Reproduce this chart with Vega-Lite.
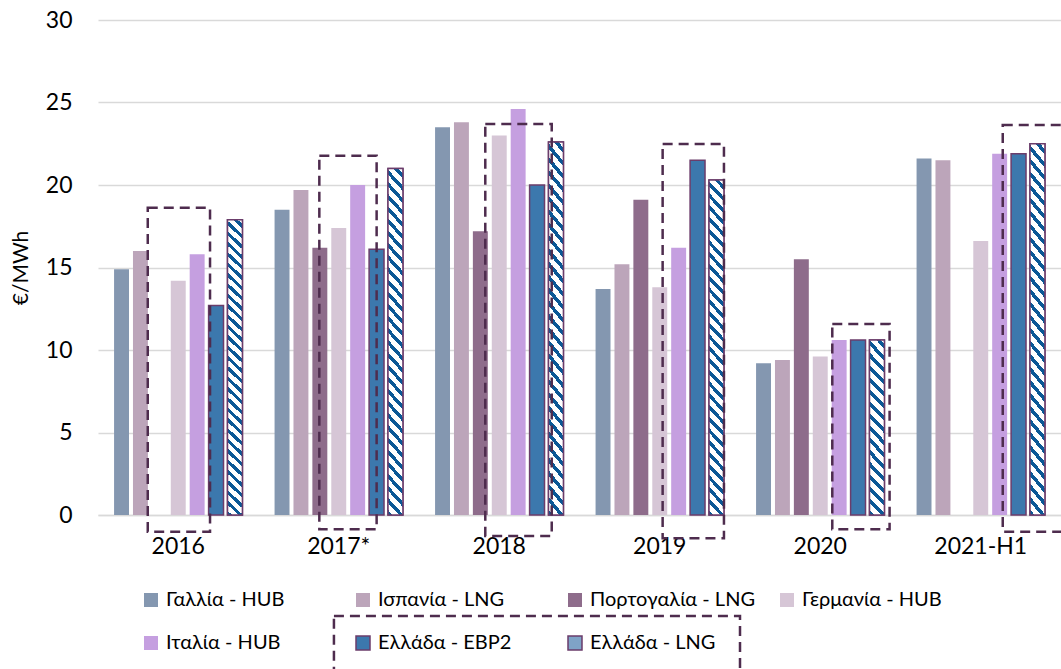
{
  "$schema": "https://vega.github.io/schema/vega-lite/v6.json",
  "width": 963,
  "height": 495,
  "autosize": {"type": "none"},
  "padding": {"left": 98, "top": 20, "right": 0, "bottom": 154},
  "background": "white",
  "config": {
    "view": {"stroke": null},
    "font": "Lato",
    "axisY": {"domain": false, "ticks": false, "grid": true, "gridColor": "#d9d9d9", "gridWidth": 1.5, "labelFontSize": 23, "labelColor": "#000000", "labelPadding": 26, "titleFontSize": 21, "titleFontWeight": "normal", "titleColor": "#000000", "titlePadding": 14},
    "axisX": {"domain": true, "domainColor": "#d9d9d9", "domainWidth": 1.5, "ticks": false, "grid": false, "labelFontSize": 23, "labelColor": "#000000", "labelPadding": 20, "labelAngle": 0}
  },
  "datasets": {
    "prices": [
      {"year": "2016", "series": "Γαλλία - HUB", "value": 14.9},
      {"year": "2016", "series": "Ισπανία - LNG", "value": 16.0},
      {"year": "2016", "series": "Γερμανία - HUB", "value": 14.2},
      {"year": "2016", "series": "Ιταλία - HUB", "value": 15.8},
      {"year": "2016", "series": "Ελλάδα - EBP2", "value": 12.7},
      {"year": "2016", "series": "Ελλάδα - LNG", "value": 17.9},
      {"year": "2017*", "series": "Γαλλία - HUB", "value": 18.5},
      {"year": "2017*", "series": "Ισπανία - LNG", "value": 19.7},
      {"year": "2017*", "series": "Πορτογαλία - LNG", "value": 16.2},
      {"year": "2017*", "series": "Γερμανία - HUB", "value": 17.4},
      {"year": "2017*", "series": "Ιταλία - HUB", "value": 20.0},
      {"year": "2017*", "series": "Ελλάδα - EBP2", "value": 16.1},
      {"year": "2017*", "series": "Ελλάδα - LNG", "value": 21.0},
      {"year": "2018", "series": "Γαλλία - HUB", "value": 23.5},
      {"year": "2018", "series": "Ισπανία - LNG", "value": 23.8},
      {"year": "2018", "series": "Πορτογαλία - LNG", "value": 17.2},
      {"year": "2018", "series": "Γερμανία - HUB", "value": 23.0},
      {"year": "2018", "series": "Ιταλία - HUB", "value": 24.6},
      {"year": "2018", "series": "Ελλάδα - EBP2", "value": 20.0},
      {"year": "2018", "series": "Ελλάδα - LNG", "value": 22.6},
      {"year": "2019", "series": "Γαλλία - HUB", "value": 13.7},
      {"year": "2019", "series": "Ισπανία - LNG", "value": 15.2},
      {"year": "2019", "series": "Πορτογαλία - LNG", "value": 19.1},
      {"year": "2019", "series": "Γερμανία - HUB", "value": 13.8},
      {"year": "2019", "series": "Ιταλία - HUB", "value": 16.2},
      {"year": "2019", "series": "Ελλάδα - EBP2", "value": 21.5},
      {"year": "2019", "series": "Ελλάδα - LNG", "value": 20.3},
      {"year": "2020", "series": "Γαλλία - HUB", "value": 9.2},
      {"year": "2020", "series": "Ισπανία - LNG", "value": 9.4},
      {"year": "2020", "series": "Πορτογαλία - LNG", "value": 15.5},
      {"year": "2020", "series": "Γερμανία - HUB", "value": 9.6},
      {"year": "2020", "series": "Ιταλία - HUB", "value": 10.6},
      {"year": "2020", "series": "Ελλάδα - EBP2", "value": 10.6},
      {"year": "2020", "series": "Ελλάδα - LNG", "value": 10.6},
      {"year": "2021-H1", "series": "Γαλλία - HUB", "value": 21.6},
      {"year": "2021-H1", "series": "Ισπανία - LNG", "value": 21.5},
      {"year": "2021-H1", "series": "Γερμανία - HUB", "value": 16.6},
      {"year": "2021-H1", "series": "Ιταλία - HUB", "value": 21.9},
      {"year": "2021-H1", "series": "Ελλάδα - EBP2", "value": 21.9},
      {"year": "2021-H1", "series": "Ελλάδα - LNG", "value": 22.5}
    ],
    "boxes": [
      {"x0": 0.310, "x1": 0.698, "y0": -1.01, "y1": 18.62},
      {"x0": 1.379, "x1": 1.736, "y0": -0.87, "y1": 21.78},
      {"x0": 2.413, "x1": 2.827, "y0": -1.27, "y1": 23.70},
      {"x0": 3.518, "x1": 3.900, "y0": -1.41, "y1": 22.48},
      {"x0": 4.575, "x1": 4.932, "y0": -0.87, "y1": 11.58},
      {"x0": 5.637, "x1": 6.2, "y0": -1.01, "y1": 23.64},
      {"x0": 1.470, "x1": 4.000, "y0": -10.5, "y1": -6.12}
    ]
  },
  "resolve": {"scale": {"x": "independent"}, "axis": {"x": "independent"}},
  "layer": [
    {
      "data": {"name": "prices"},
      "encoding": {
        "x": {"field": "year", "type": "nominal", "sort": null, "title": null, "scale": {"paddingInner": 0, "paddingOuter": 0}},
        "xOffset": {"field": "series", "type": "nominal", "scale": {"domain": ["Γαλλία - HUB", "Ισπανία - LNG", "Πορτογαλία - LNG", "Γερμανία - HUB", "Ιταλία - HUB", "Ελλάδα - EBP2", "Ελλάδα - LNG"], "paddingInner": 0.21, "paddingOuter": 0.85}},
        "y": {"field": "value", "type": "quantitative", "title": "€/MWh", "scale": {"domain": [0, 30], "nice": false}, "axis": {"values": [0, 5, 10, 15, 20, 25, 30]}}
      },
      "layer": [
        {
          "mark": {"type": "bar", "strokeWidth": 1.5},
          "encoding": {
            "color": {
              "field": "series", "type": "nominal",
              "scale": {
                "domain": ["Γαλλία - HUB", "Ισπανία - LNG", "Πορτογαλία - LNG", "Γερμανία - HUB", "Ιταλία - HUB", "Ελλάδα - EBP2", "Ελλάδα - LNG"],
                "range": ["#8497b0", "#bca5ba", "#8e6c8b", "#d6c6d6", "#c59fe0", "#3c78ad", "#7fa3c7"]
              },
              "legend": {
                "orient": "none", "legendX": 43, "legendY": 570, "direction": "horizontal", "columns": 4, "title": null,
                "symbolType": "square", "symbolSize": 196, "symbolStrokeWidth": 1.5, "labelFontSize": 20, "labelLimit": 300, "labelColor": "#000000", "labelFont": "Lato",
                "columnPadding": 21, "rowPadding": 23, "gridAlign": "all", "labelOffset": 5, "padding": 0
              }
            },
            "stroke": {
              "field": "series", "type": "nominal",
              "scale": {
                "domain": ["Γαλλία - HUB", "Ισπανία - LNG", "Πορτογαλία - LNG", "Γερμανία - HUB", "Ιταλία - HUB", "Ελλάδα - EBP2", "Ελλάδα - LNG"],
                "range": ["transparent", "transparent", "transparent", "transparent", "transparent", "#6b3d6b", "#6b3d6b"]
              },
              "legend": {
                "orient": "none", "legendX": 43, "legendY": 570, "direction": "horizontal", "columns": 4, "title": null,
                "symbolType": "square", "symbolSize": 196, "symbolStrokeWidth": 1.5, "labelFontSize": 20, "labelLimit": 300, "labelColor": "#000000", "labelFont": "Lato",
                "columnPadding": 21, "rowPadding": 23, "gridAlign": "all", "labelOffset": 5, "padding": 0
              }
            }
          }
        },
        {
          "transform": [{"filter": "datum.series === 'Ελλάδα - LNG' && datum.value >= 15"}],
          "mark": {
            "type": "bar", "stroke": "#6b3d6b", "strokeWidth": 1.5,
            "fill": {"gradient": "linear", "x1": 0, "y1": 1, "x2": 0.05, "y2": -0.05, "stops": [
              {"offset": 0, "color": "#0b5896"}, {"offset": 0.014, "color": "#0b5896"}, {"offset": 0.014, "color": "#ffffff"}, {"offset": 0.0333, "color": "#ffffff"},
              {"offset": 0.0333, "color": "#0b5896"}, {"offset": 0.0473, "color": "#0b5896"}, {"offset": 0.0473, "color": "#ffffff"}, {"offset": 0.0667, "color": "#ffffff"},
              {"offset": 0.0667, "color": "#0b5896"}, {"offset": 0.0807, "color": "#0b5896"}, {"offset": 0.0807, "color": "#ffffff"}, {"offset": 0.1, "color": "#ffffff"},
              {"offset": 0.1, "color": "#0b5896"}, {"offset": 0.114, "color": "#0b5896"}, {"offset": 0.114, "color": "#ffffff"}, {"offset": 0.1333, "color": "#ffffff"},
              {"offset": 0.1333, "color": "#0b5896"}, {"offset": 0.1473, "color": "#0b5896"}, {"offset": 0.1473, "color": "#ffffff"}, {"offset": 0.1667, "color": "#ffffff"},
              {"offset": 0.1667, "color": "#0b5896"}, {"offset": 0.1807, "color": "#0b5896"}, {"offset": 0.1807, "color": "#ffffff"}, {"offset": 0.2, "color": "#ffffff"},
              {"offset": 0.2, "color": "#0b5896"}, {"offset": 0.214, "color": "#0b5896"}, {"offset": 0.214, "color": "#ffffff"}, {"offset": 0.2333, "color": "#ffffff"},
              {"offset": 0.2333, "color": "#0b5896"}, {"offset": 0.2473, "color": "#0b5896"}, {"offset": 0.2473, "color": "#ffffff"}, {"offset": 0.2667, "color": "#ffffff"},
              {"offset": 0.2667, "color": "#0b5896"}, {"offset": 0.2807, "color": "#0b5896"}, {"offset": 0.2807, "color": "#ffffff"}, {"offset": 0.3, "color": "#ffffff"},
              {"offset": 0.3, "color": "#0b5896"}, {"offset": 0.314, "color": "#0b5896"}, {"offset": 0.314, "color": "#ffffff"}, {"offset": 0.3333, "color": "#ffffff"},
              {"offset": 0.3333, "color": "#0b5896"}, {"offset": 0.3473, "color": "#0b5896"}, {"offset": 0.3473, "color": "#ffffff"}, {"offset": 0.3667, "color": "#ffffff"},
              {"offset": 0.3667, "color": "#0b5896"}, {"offset": 0.3807, "color": "#0b5896"}, {"offset": 0.3807, "color": "#ffffff"}, {"offset": 0.4, "color": "#ffffff"},
              {"offset": 0.4, "color": "#0b5896"}, {"offset": 0.414, "color": "#0b5896"}, {"offset": 0.414, "color": "#ffffff"}, {"offset": 0.4333, "color": "#ffffff"},
              {"offset": 0.4333, "color": "#0b5896"}, {"offset": 0.4473, "color": "#0b5896"}, {"offset": 0.4473, "color": "#ffffff"}, {"offset": 0.4667, "color": "#ffffff"},
              {"offset": 0.4667, "color": "#0b5896"}, {"offset": 0.4807, "color": "#0b5896"}, {"offset": 0.4807, "color": "#ffffff"}, {"offset": 0.5, "color": "#ffffff"},
              {"offset": 0.5, "color": "#0b5896"}, {"offset": 0.514, "color": "#0b5896"}, {"offset": 0.514, "color": "#ffffff"}, {"offset": 0.5333, "color": "#ffffff"},
              {"offset": 0.5333, "color": "#0b5896"}, {"offset": 0.5473, "color": "#0b5896"}, {"offset": 0.5473, "color": "#ffffff"}, {"offset": 0.5667, "color": "#ffffff"},
              {"offset": 0.5667, "color": "#0b5896"}, {"offset": 0.5807, "color": "#0b5896"}, {"offset": 0.5807, "color": "#ffffff"}, {"offset": 0.6, "color": "#ffffff"},
              {"offset": 0.6, "color": "#0b5896"}, {"offset": 0.614, "color": "#0b5896"}, {"offset": 0.614, "color": "#ffffff"}, {"offset": 0.6333, "color": "#ffffff"},
              {"offset": 0.6333, "color": "#0b5896"}, {"offset": 0.6473, "color": "#0b5896"}, {"offset": 0.6473, "color": "#ffffff"}, {"offset": 0.6667, "color": "#ffffff"},
              {"offset": 0.6667, "color": "#0b5896"}, {"offset": 0.6807, "color": "#0b5896"}, {"offset": 0.6807, "color": "#ffffff"}, {"offset": 0.7, "color": "#ffffff"},
              {"offset": 0.7, "color": "#0b5896"}, {"offset": 0.714, "color": "#0b5896"}, {"offset": 0.714, "color": "#ffffff"}, {"offset": 0.7333, "color": "#ffffff"},
              {"offset": 0.7333, "color": "#0b5896"}, {"offset": 0.7473, "color": "#0b5896"}, {"offset": 0.7473, "color": "#ffffff"}, {"offset": 0.7667, "color": "#ffffff"},
              {"offset": 0.7667, "color": "#0b5896"}, {"offset": 0.7807, "color": "#0b5896"}, {"offset": 0.7807, "color": "#ffffff"}, {"offset": 0.8, "color": "#ffffff"},
              {"offset": 0.8, "color": "#0b5896"}, {"offset": 0.814, "color": "#0b5896"}, {"offset": 0.814, "color": "#ffffff"}, {"offset": 0.8333, "color": "#ffffff"},
              {"offset": 0.8333, "color": "#0b5896"}, {"offset": 0.8473, "color": "#0b5896"}, {"offset": 0.8473, "color": "#ffffff"}, {"offset": 0.8667, "color": "#ffffff"},
              {"offset": 0.8667, "color": "#0b5896"}, {"offset": 0.8807, "color": "#0b5896"}, {"offset": 0.8807, "color": "#ffffff"}, {"offset": 0.9, "color": "#ffffff"},
              {"offset": 0.9, "color": "#0b5896"}, {"offset": 0.914, "color": "#0b5896"}, {"offset": 0.914, "color": "#ffffff"}, {"offset": 0.9333, "color": "#ffffff"},
              {"offset": 0.9333, "color": "#0b5896"}, {"offset": 0.9473, "color": "#0b5896"}, {"offset": 0.9473, "color": "#ffffff"}, {"offset": 0.9667, "color": "#ffffff"},
              {"offset": 0.9667, "color": "#0b5896"}, {"offset": 0.9807, "color": "#0b5896"}, {"offset": 0.9807, "color": "#ffffff"}, {"offset": 1, "color": "#ffffff"}
            ]}
          }
        },
        {
          "transform": [{"filter": "datum.series === 'Ελλάδα - LNG' && datum.value < 15"}],
          "mark": {
            "type": "bar", "stroke": "#6b3d6b", "strokeWidth": 1.5,
            "fill": {"gradient": "linear", "x1": 0, "y1": 1, "x2": 0.097, "y2": -0.1, "stops": [
              {"offset": 0, "color": "#0b5896"}, {"offset": 0.0263, "color": "#0b5896"}, {"offset": 0.0263, "color": "#ffffff"}, {"offset": 0.0625, "color": "#ffffff"},
              {"offset": 0.0625, "color": "#0b5896"}, {"offset": 0.0888, "color": "#0b5896"}, {"offset": 0.0888, "color": "#ffffff"}, {"offset": 0.125, "color": "#ffffff"},
              {"offset": 0.125, "color": "#0b5896"}, {"offset": 0.1513, "color": "#0b5896"}, {"offset": 0.1513, "color": "#ffffff"}, {"offset": 0.1875, "color": "#ffffff"},
              {"offset": 0.1875, "color": "#0b5896"}, {"offset": 0.2138, "color": "#0b5896"}, {"offset": 0.2138, "color": "#ffffff"}, {"offset": 0.25, "color": "#ffffff"},
              {"offset": 0.25, "color": "#0b5896"}, {"offset": 0.2763, "color": "#0b5896"}, {"offset": 0.2763, "color": "#ffffff"}, {"offset": 0.3125, "color": "#ffffff"},
              {"offset": 0.3125, "color": "#0b5896"}, {"offset": 0.3388, "color": "#0b5896"}, {"offset": 0.3388, "color": "#ffffff"}, {"offset": 0.375, "color": "#ffffff"},
              {"offset": 0.375, "color": "#0b5896"}, {"offset": 0.4013, "color": "#0b5896"}, {"offset": 0.4013, "color": "#ffffff"}, {"offset": 0.4375, "color": "#ffffff"},
              {"offset": 0.4375, "color": "#0b5896"}, {"offset": 0.4638, "color": "#0b5896"}, {"offset": 0.4638, "color": "#ffffff"}, {"offset": 0.5, "color": "#ffffff"},
              {"offset": 0.5, "color": "#0b5896"}, {"offset": 0.5263, "color": "#0b5896"}, {"offset": 0.5263, "color": "#ffffff"}, {"offset": 0.5625, "color": "#ffffff"},
              {"offset": 0.5625, "color": "#0b5896"}, {"offset": 0.5888, "color": "#0b5896"}, {"offset": 0.5888, "color": "#ffffff"}, {"offset": 0.625, "color": "#ffffff"},
              {"offset": 0.625, "color": "#0b5896"}, {"offset": 0.6513, "color": "#0b5896"}, {"offset": 0.6513, "color": "#ffffff"}, {"offset": 0.6875, "color": "#ffffff"},
              {"offset": 0.6875, "color": "#0b5896"}, {"offset": 0.7138, "color": "#0b5896"}, {"offset": 0.7138, "color": "#ffffff"}, {"offset": 0.75, "color": "#ffffff"},
              {"offset": 0.75, "color": "#0b5896"}, {"offset": 0.7763, "color": "#0b5896"}, {"offset": 0.7763, "color": "#ffffff"}, {"offset": 0.8125, "color": "#ffffff"},
              {"offset": 0.8125, "color": "#0b5896"}, {"offset": 0.8388, "color": "#0b5896"}, {"offset": 0.8388, "color": "#ffffff"}, {"offset": 0.875, "color": "#ffffff"},
              {"offset": 0.875, "color": "#0b5896"}, {"offset": 0.9013, "color": "#0b5896"}, {"offset": 0.9013, "color": "#ffffff"}, {"offset": 0.9375, "color": "#ffffff"},
              {"offset": 0.9375, "color": "#0b5896"}, {"offset": 0.9638, "color": "#0b5896"}, {"offset": 0.9638, "color": "#ffffff"}, {"offset": 1, "color": "#ffffff"}
            ]}
          }
        }
      ]
    },
    {
      "data": {"name": "boxes"},
      "mark": {"type": "rect", "fillOpacity": 0, "stroke": "#4e2c4e", "strokeWidth": 2.5, "strokeDash": [10, 6], "clip": false},
      "encoding": {
        "x": {"field": "x0", "type": "quantitative", "axis": null, "scale": {"domain": [0, 6], "nice": false, "zero": false}},
        "x2": {"field": "x1"},
        "y": {"field": "y0", "type": "quantitative", "title": "€/MWh", "scale": {"domain": [0, 30], "nice": false}, "axis": {"values": [0, 5, 10, 15, 20, 25, 30]}},
        "y2": {"field": "y1"}
      }
    }
  ]
}
